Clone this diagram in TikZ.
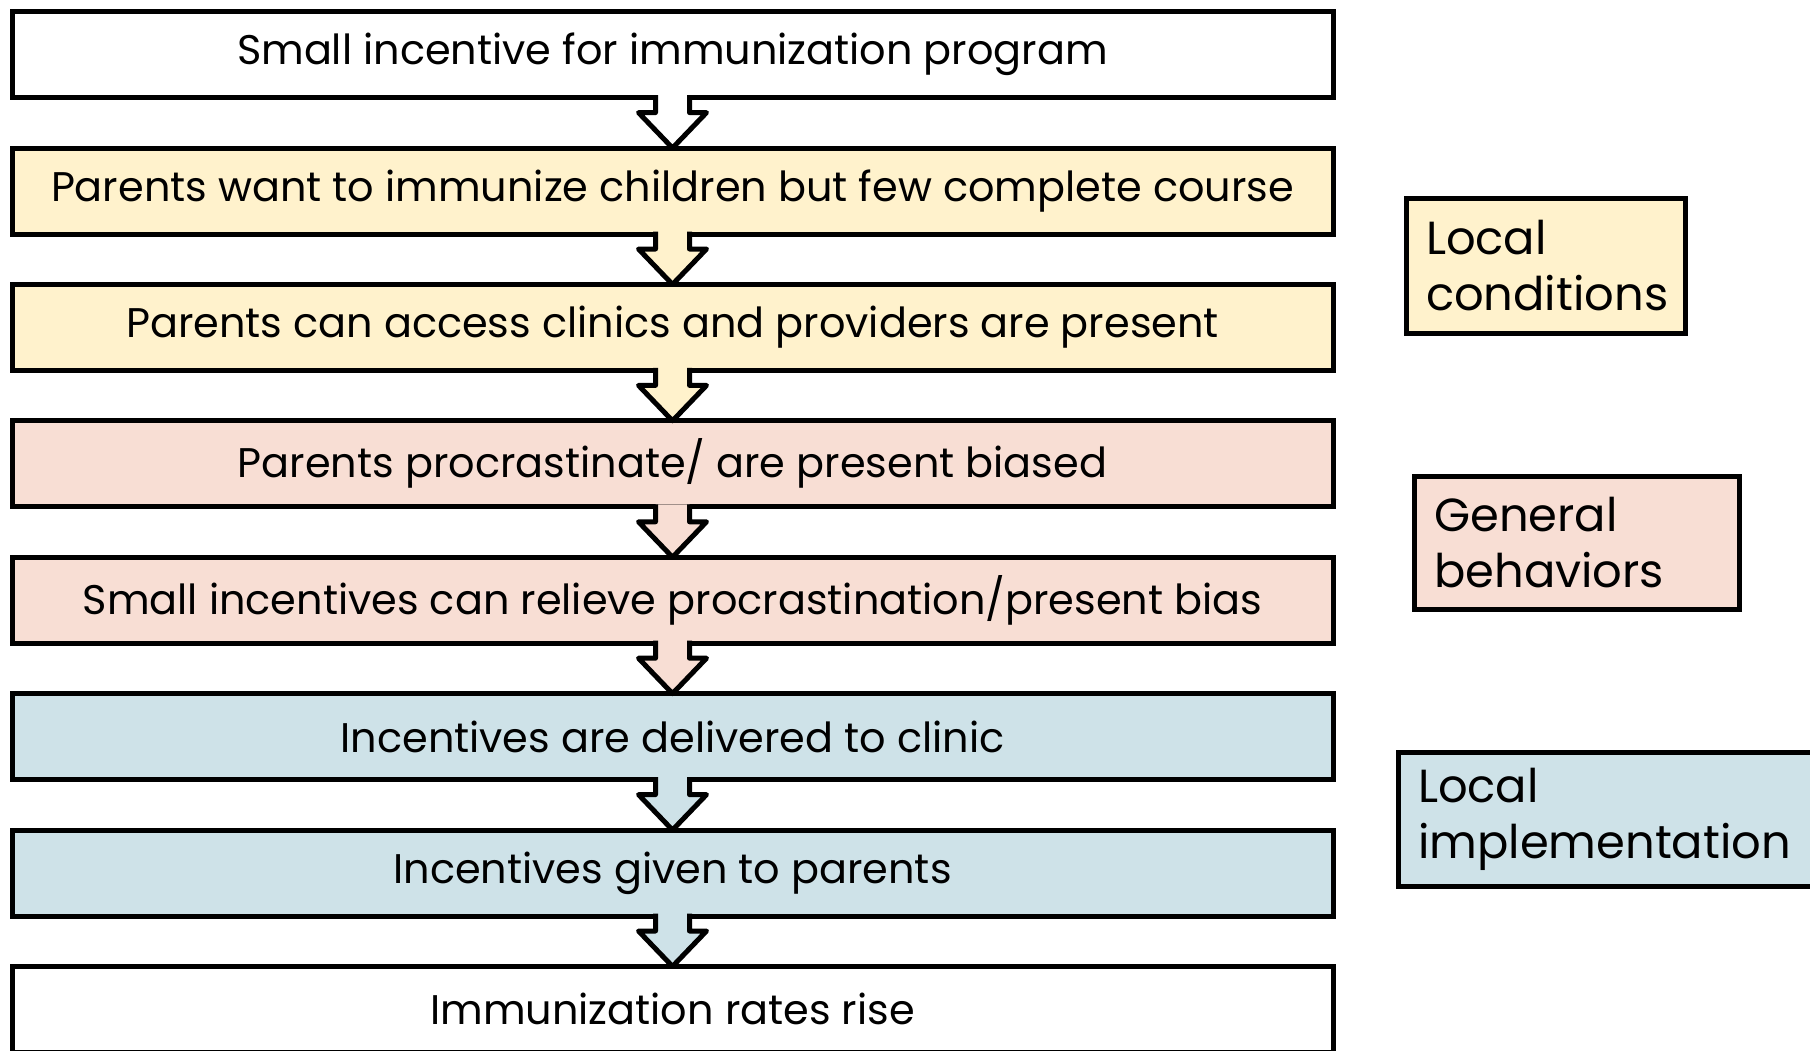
\documentclass[tikz,border=0pt]{standalone}
\usepackage{fontspec}
\setmainfont{Poppins}
\usetikzlibrary{positioning}
\definecolor{condfill}{RGB}{255,242,204}
\definecolor{behavfill}{RGB}{248,222,212}
\definecolor{implfill}{RGB}{206,226,232}
\tikzset{
    stepbox/.style  = {draw, black, line width=2.5pt, rectangle, minimum width=660.5pt, minimum height=43pt, inner sep=0pt, outer sep=0pt, font=\fontsize{20.7}{24}\selectfont},
    groupbox/.style = {draw, black, line width=2.5pt, rectangle, inner xsep=10pt, inner ysep=0pt, outer sep=0pt, align=left, font=\fontsize{23.2}{28}\selectfont},
    blockarrow/.style = {black, line width=2.5pt, line join=round},
}

\begin{document}
\begin{tikzpicture}
        \useasboundingbox (0,0) rectangle (905pt,-525pt);
        % chain of steps
        \node[stepbox] (small) at (336.25pt,-27.3pt) {Small incentive for immunization program};
        \node[stepbox, fill=condfill, below=25.2pt of small] (want) {Parents want to immunize children but few complete course};
        \node[stepbox, fill=condfill, below=25.2pt of want] (access) {Parents can access clinics and providers are present};
        \node[stepbox, fill=behavfill, below=25.2pt of access] (procr) {Parents procrastinate/ are present biased};
        \node[stepbox, fill=behavfill, below=25.2pt of procr] (relieve) {Small incentives can relieve procrastination/present bias};
        \node[stepbox, fill=implfill, below=25.2pt of relieve] (deliver) {Incentives are delivered to clinic};
        \node[stepbox, fill=implfill, below=25.2pt of deliver] (given) {Incentives given to parents};
        \node[stepbox, below=25.2pt of given] (rise) {Immunization rates rise};

        % side labels
        \node[groupbox, fill=condfill, text width=119.5pt, minimum height=67.5pt] (cond) at (772.75pt,-132.75pt) {Local\\conditions};
        \node[groupbox, fill=behavfill, text width=142.75pt, minimum height=66.75pt] (behav) at (788.5pt,-271.5pt) {General\\behaviors};
        \node[groupbox, fill=implfill, text width=196pt, minimum height=67pt] (impl) at (807pt,-409.5pt) {Local\\implementation};

        % block arrows
        \foreach \from/\to/\col in {small/want/white, want/access/condfill, access/procr/condfill, procr/relieve/behavfill, relieve/deliver/behavfill, deliver/given/implfill, given/rise/implfill}
            \draw[blockarrow, fill=\col] ([xshift=-8.5pt, yshift=1.25pt]\from.south) -- ([xshift=-8.5pt, yshift=-7.5pt]\from.south)
                -- ([xshift=-17pt, yshift=-7.5pt]\from.south) -- (\to.north) -- ([xshift=17pt, yshift=-7.5pt]\from.south)
                -- ([xshift=8.5pt, yshift=-7.5pt]\from.south) -- ([xshift=8.5pt, yshift=1.25pt]\from.south);
\end{tikzpicture}
\end{document}
